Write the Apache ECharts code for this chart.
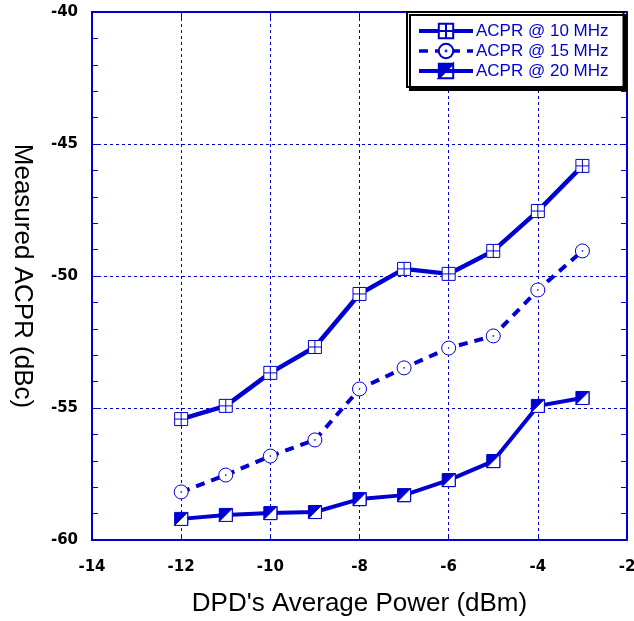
<!DOCTYPE html>
<html>
<head>
<meta charset="utf-8">
<script src="https://cdn.jsdelivr.net/npm/echarts@6/dist/echarts.min.js"></script>
<style>html,body{margin:0;padding:0;background:#fff}#c{width:634px;height:621px}</style>
</head>
<body>
<div id="c"></div>
<script>
const xValues = [-12, -11, -10, -9, -8, -7, -6, -5, -4, -3];
const acpr10 = [-55.42, -54.92, -53.67, -52.69, -50.68, -49.73, -49.92, -49.05, -47.54, -45.83];
const acpr15 = [-58.18, -57.54, -56.82, -56.21, -54.28, -53.48, -52.73, -52.27, -50.53, -49.05];
const acpr20 = [-59.20, -59.05, -58.98, -58.94, -58.45, -58.30, -57.73, -57.01, -54.92, -54.62];
const seriesNames = ['ACPR @ 10 MHz', 'ACPR @ 15 MHz', 'ACPR @ 20 MHz'];

const BLUE = '#0000d0';
const pair = arr => xValues.map((x, i) => [x, arr[i]]);

const symSqCross = 'path://M0,0H12V12H0Z M6,0V12 M0,6H12';
const symCircDot = 'path://M0,6A6,6 0 1,1 12,6A6,6 0 1,1 0,6Z M5.6,6A0.4,0.4 0 1,1 6.4,6A0.4,0.4 0 1,1 5.6,6Z';
const symHalf = 'path://M0,0H12V12H0Z M12,0L0,12L12,12Z';
const symHalfWhite = 'path://M12,0L0,12L12,12Z';

const chart = echarts.init(document.getElementById('c'), null, {renderer: 'canvas'});
const axisFont = {color: '#000', fontFamily: 'DejaVu Sans, sans-serif', fontWeight: 'bold', fontSize: 15};
const titleFont = {color: '#000', fontFamily: 'Liberation Sans, Arial, sans-serif', fontSize: 26};
chart.setOption({
  backgroundColor: '#fff',
  animation: false,
  grid: {left: 92, right: 7, top: 12, bottom: 81, outerBoundsMode: 'none', containLabel: false},
  legend: {
    data: [
      {name: seriesNames[0], lineStyle: {width: 4}},
      {name: seriesNames[1], lineStyle: {width: 3.5}},
      {name: seriesNames[2], lineStyle: {width: 4}}
    ],
    orient: 'vertical',
    left: 407, top: 12,
    padding: [10, 15, 7, 10],
    itemGap: 2,
    itemWidth: 54,
    itemHeight: 18,
    backgroundColor: '#fff',
    borderColor: '#000',
    borderWidth: 2,
    borderRadius: 0,
    shadowColor: '#000',
    shadowBlur: 0,
    shadowOffsetX: 3,
    shadowOffsetY: 3,
    textStyle: {color: BLUE, fontFamily: 'Liberation Sans, Arial, sans-serif', fontSize: 17, lineHeight: 18, padding: [0, 0, 0, -2]}
  },
  xAxis: [{
    type: 'value', min: -14, max: -2, interval: 2,
    name: "DPD's Average Power (dBm)", nameLocation: 'middle', nameGap: 51,
    nameTextStyle: titleFont,
    axisLine: {show: true, lineStyle: {color: BLUE, width: 2}},
    axisTick: {show: true, inside: true, length: 6, lineStyle: {color: BLUE, width: 1}},
    axisLabel: Object.assign({margin: 20}, axisFont),
    splitLine: {show: true, lineStyle: {color: BLUE, width: 1, type: [3, 3]}}
  }, {
    type: 'value', min: -14, max: -2, interval: 2, position: 'top',
    axisLine: {show: true, lineStyle: {color: BLUE, width: 2}},
    axisTick: {show: true, inside: true, length: 6, lineStyle: {color: BLUE, width: 1}},
    axisLabel: {show: false}, splitLine: {show: false}
  }],
  yAxis: [{
    type: 'value', min: -60, max: -40, interval: 5,
    name: 'Measured ACPR (dBc)', nameLocation: 'middle', nameGap: 57, nameRotate: -90,
    nameTextStyle: titleFont,
    axisLine: {show: true, lineStyle: {color: BLUE, width: 2}},
    axisTick: {show: true, inside: true, length: 6, lineStyle: {color: BLUE, width: 1}},
    minorTick: {show: true, splitNumber: 5, length: 6, lineStyle: {color: BLUE, width: 1}},
    axisLabel: Object.assign({margin: 14}, axisFont),
    splitLine: {show: true, lineStyle: {color: BLUE, width: 1, type: [3, 3]}}
  }, {
    type: 'value', min: -60, max: -40, interval: 5, position: 'right',
    axisLine: {show: true, lineStyle: {color: BLUE, width: 2}},
    axisTick: {show: true, inside: true, length: 6, lineStyle: {color: BLUE, width: 1}},
    minorTick: {show: true, splitNumber: 5, length: 6, lineStyle: {color: BLUE, width: 1}},
    axisLabel: {show: false}, splitLine: {show: false}
  }],
  series: [{
    name: seriesNames[0], type: 'line', data: pair(acpr10), z: 3,
    symbol: symSqCross, symbolSize: 13, showAllSymbol: true,
    lineStyle: {color: BLUE, width: 4.5},
    itemStyle: {color: '#fff', borderColor: BLUE, borderWidth: 1}
  }, {
    name: seriesNames[1], type: 'line', data: pair(acpr15), z: 3,
    symbol: symCircDot, symbolSize: 14,
    lineStyle: {color: BLUE, width: 4, type: [9, 7]},
    itemStyle: {color: '#fff', borderColor: BLUE, borderWidth: 1}
  }, {
    name: seriesNames[2], type: 'line', data: pair(acpr20), z: 3,
    symbol: symHalf, symbolSize: 13,
    lineStyle: {color: BLUE, width: 4},
    itemStyle: {color: BLUE, borderColor: BLUE, borderWidth: 1}
  }, {
    name: 'overlay20', type: 'line', data: pair(acpr20), z: 4,
    symbol: symHalfWhite, symbolSize: 13,
    lineStyle: {width: 0, opacity: 0},
    itemStyle: {color: '#fff', borderColor: BLUE, borderWidth: 1},
    tooltip: {show: false}
  }]
});
</script>
</body>
</html>
